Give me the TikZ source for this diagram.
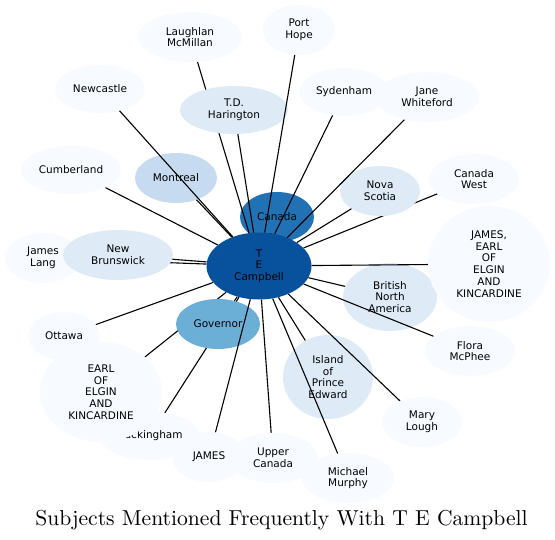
\documentclass[tikz,border=0pt]{standalone}
\usepackage{fontspec}
\newfontfamily\nodefont{DejaVu Sans}
\newfontfamily\titlefont{lmroman10-regular.otf}
\usetikzlibrary{shapes.geometric}
\definecolor{bluea}{HTML}{F7FBFF}
\definecolor{blueb}{HTML}{DEEBF7}
\definecolor{bluec}{HTML}{C6DBEF}
\definecolor{blued}{HTML}{6BAED6}
\definecolor{bluee}{HTML}{2171B5}
\definecolor{bluef}{HTML}{08519C}
\pgfdeclarelayer{bglayer}
\pgfdeclarelayer{underedges}
\pgfdeclarelayer{overedges}
\pgfsetlayers{bglayer,underedges,main,overedges}
\tikzset{
  ell/.style={ellipse, draw=none, inner sep=0pt, align=center,
    font=\nodefont\fontsize{10.5}{11.7}\selectfont, text=black},
  rad/.style 2 args={minimum width=#1*2pt, minimum height=#2*2pt},
  link/.style={draw=black, line width=1.1pt},
  titletext/.style={font=\titlefont\fontsize{21.6}{26}\selectfont, text=black, inner sep=0pt}
}
\begin{document}
\begin{tikzpicture}[x=1pt,y=-1pt]
\useasboundingbox (0,0) rectangle (555,539);
\begin{pgfonlayer}{bglayer}
\node[ell, fill=bluee, rad={37}{25}] (canada) at (277,217) {Canada};
\end{pgfonlayer}
\node[ell, fill=bluea, rad={52}{25}] (laughlan) at (190,37) {Laughlan\\McMillan};
\node[ell, fill=bluea, rad={36}{25}] (porthope) at (299,30) {Port\\Hope};
\node[ell, fill=bluea, rad={45}{24}] (newcastle) at (100,89) {Newcastle};
\node[ell, fill=blueb, rad={54}{24}] (harington) at (234,110) {T.D.\\Harington};
\node[ell, fill=bluea, rad={45}{24}] (sydenham) at (344,92) {Sydenham};
\node[ell, fill=bluea, rad={52}{25}] (jane) at (427,97) {Jane\\Whiteford};
\node[ell, fill=bluea, rad={50}{24}] (cumberland) at (71,170) {Cumberland};
\node[ell, fill=bluec, rad={41}{25}] (montreal) at (176,178) {Montreal};
\node[ell, fill=blueb, rad={40}{25}] (novascotia) at (380,191) {Nova\\Scotia};
\node[ell, fill=bluea, rad={45}{25}] (canadawest) at (474,179) {Canada\\West};
\node[ell, fill=bluea, rad={38}{25}] (jameslang) at (43,258) {James\\Lang};
\node[ell, fill=blueb, rad={55}{25}] (newbrunswick) at (118,255) {New\\Brunswick};
\node[ell, fill=bluef, rad={52.5}{33.5}] (te) at (259,266) {T\\E\\Campbell};
\node[ell, fill=blueb, rad={47}{34}] (bna) at (390,297) {British\\North\\America};
\node[ell, fill=bluea, rad={61}{58}] (jamesr) at (489,264) {JAMES,\\EARL\\OF\\ELGIN\\AND\\KINCARDINE};
\node[ell, fill=bluea, rad={36}{24}] (ottawa) at (64,336) {Ottawa};
\node[ell, fill=blued, rad={42}{25}] (governor) at (218,324) {Governor};
\node[ell, fill=bluea, rad={50}{24}] (buckingham) at (150,436) {Buckingham};
\node[ell, fill=bluea, rad={61}{50}] (earll) at (101,392) {EARL\\OF\\ELGIN\\AND\\KINCARDINE};
\node[ell, fill=blueb, rad={45}{42}] (island) at (328,377) {Island\\of\\Prince\\Edward};
\node[ell, fill=bluea, rad={45}{25}] (flora) at (470,351) {Flora\\McPhee};
\node[ell, fill=bluea, rad={40}{25}] (mary) at (422,422) {Mary\\Lough};
\node[ell, fill=bluea, rad={37}{25}] (james) at (209,457) {JAMES};
\node[ell, fill=bluea, rad={45}{25}] (upper) at (273,458) {Upper\\Canada};
\node[ell, fill=bluea, rad={46}{25}] (michael) at (348,478) {Michael\\Murphy};
\node[titletext, anchor=base] (title) at (281.5,525) {Subjects Mentioned Frequently With T E Campbell};
\begin{pgfonlayer}{underedges}
\draw[link] (canada) -- (te);
\draw[link] (laughlan) -- (te);
\draw[link] (canadawest) -- (te);
\draw[link] (jameslang) -- (te);
\draw[link] (buckingham) -- (te);
\draw[link] (earll) -- (te);
\end{pgfonlayer}
\begin{pgfonlayer}{overedges}
\draw[link] (harington) -- (te);
\draw[link] (porthope) -- (te);
\draw[link] (sydenham) -- (te);
\draw[link] (jane) -- (te);
\draw[link] (novascotia) -- (te);
\draw[link] (cumberland) -- (te);
\draw[link] (newcastle) -- (te);
\draw[link] (montreal) -- (te);
\draw[link] (newbrunswick) -- (te);
\draw[link] (jamesr) -- (te);
\draw[link] (bna) -- (te);
\draw[link] (flora) -- (te);
\draw[link] (island) -- (te);
\draw[link] (mary) -- (te);
\draw[link] (michael) -- (te);
\draw[link] (upper) -- (te);
\draw[link] (james) -- (te);
\draw[link] (ottawa) -- (te);
\draw[link] (governor) -- (te);
\end{pgfonlayer}
\end{tikzpicture}
\end{document}
